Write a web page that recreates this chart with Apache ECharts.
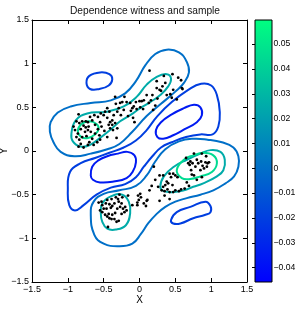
<!DOCTYPE html>
<html>
<head>
<meta charset="utf-8">
<script src="https://cdn.jsdelivr.net/npm/echarts@6/dist/echarts.min.js"></script>
<style>
  html, body { margin: 0; padding: 0; background: #fff; }
  #main { width: 296px; height: 310px; }
</style>
</head>
<body>
<div id="main"></div>
<script>
// axis ticks
var xTicks = [-1.5, -1, -0.5, 0, 0.5, 1, 1.5];
var yTicks = [-1.5, -1, -0.5, 0, 0.5, 1, 1.5];
// colour bar range and ticks
var cbRange = [-0.0458, 0.0597];
var cbTicks = [-0.04, -0.03, -0.02, -0.01, 0, 0.01, 0.02, 0.03, 0.04, 0.05];

// contour lines (x, y)
var darkUpper = [[0.23,0.24],[0.30,0.33],[0.45,0.42],[0.62,0.49],[0.76,0.53],[0.85,0.50],[0.87,0.41],[0.80,0.33],[0.63,0.25],[0.47,0.18],[0.33,0.14],[0.25,0.16]];
var darkLower = [[-0.68,-0.28],[-0.66,-0.18],[-0.58,-0.11],[-0.45,-0.06],[-0.30,-0.03],[-0.17,-0.01],[-0.07,-0.05],[-0.05,-0.13],[-0.09,-0.23],[-0.18,-0.31],[-0.36,-0.35],[-0.55,-0.36],[-0.65,-0.33]];
var blueBand = [[-1.00,-0.45],[-0.97,-0.24],[-0.82,-0.14],[-0.62,-0.08],[-0.42,-0.02],[-0.22,0.04],[-0.05,0.12],[0.10,0.24],[0.25,0.40],[0.45,0.56],[0.68,0.70],[0.86,0.77],[1.00,0.75],[1.08,0.64],[1.12,0.45],[1.10,0.28],[1.02,0.19],[0.85,0.19],[0.65,0.16],[0.45,0.10],[0.30,0.04],[0.18,-0.06],[0.06,-0.18],[-0.05,-0.30],[-0.20,-0.38],[-0.40,-0.42],[-0.60,-0.50],[-0.78,-0.62],[-0.90,-0.68],[-0.98,-0.62]];
var blueTopLeft = [[-0.74,0.78],[-0.70,0.86],[-0.55,0.90],[-0.42,0.88],[-0.38,0.82],[-0.43,0.75],[-0.56,0.71],[-0.69,0.71]];
var blueBottomRight = [[0.44,-0.79],[0.52,-0.70],[0.71,-0.64],[0.92,-0.58],[0.99,-0.63],[0.99,-0.70],[0.92,-0.73],[0.75,-0.77],[0.57,-0.83],[0.47,-0.83]];
var zeroUpper = [[-1.25,0.22],[-1.24,0.33],[-1.14,0.44],[-0.96,0.51],[-0.68,0.55],[-0.40,0.58],[-0.20,0.66],[-0.05,0.80],[0.08,0.98],[0.22,1.11],[0.38,1.16],[0.55,1.13],[0.66,1.02],[0.69,0.90],[0.62,0.78],[0.50,0.68],[0.30,0.54],[0.10,0.40],[-0.10,0.22],[-0.28,0.08],[-0.45,0.02],[-0.68,-0.03],[-0.91,-0.06],[-1.10,-0.01],[-1.20,0.10]];
var zeroLower = [[-0.68,-0.72],[-0.64,-0.58],[-0.50,-0.49],[-0.28,-0.45],[-0.05,-0.40],[0.10,-0.28],[0.22,-0.12],[0.36,0.02],[0.55,0.11],[0.75,0.14],[0.95,0.13],[1.15,0.10],[1.31,0.04],[1.38,-0.06],[1.38,-0.18],[1.32,-0.29],[1.20,-0.37],[1.03,-0.45],[0.85,-0.50],[0.66,-0.54],[0.50,-0.58],[0.36,-0.64],[0.24,-0.72],[0.12,-0.83],[0.02,-0.95],[-0.10,-1.06],[-0.30,-1.09],[-0.50,-1.06],[-0.63,-0.96]];
var tealUpper = [[-0.95,0.20],[-0.89,0.35],[-0.73,0.43],[-0.45,0.45],[-0.22,0.51],[-0.04,0.62],[0.10,0.76],[0.24,0.85],[0.38,0.88],[0.44,0.83],[0.40,0.74],[0.29,0.64],[0.15,0.56],[0.01,0.49],[-0.13,0.41],[-0.27,0.34],[-0.41,0.24],[-0.55,0.15],[-0.69,0.07],[-0.82,0.05],[-0.93,0.11]];
var tealLower = [[0.29,-0.41],[0.34,-0.29],[0.48,-0.18],[0.66,-0.10],[0.85,-0.03],[0.99,0.01],[1.13,-0.01],[1.19,-0.10],[1.17,-0.22],[1.08,-0.29],[0.89,-0.37],[0.75,-0.41],[0.62,-0.45],[0.48,-0.47],[0.34,-0.46]];
var tealLeft = [[-0.54,-0.71],[-0.52,-0.60],[-0.40,-0.52],[-0.24,-0.50],[-0.15,-0.58],[-0.13,-0.71],[-0.19,-0.85],[-0.33,-0.90],[-0.45,-0.89],[-0.52,-0.81]];
var greenUpper = [[-0.86,0.22],[-0.82,0.30],[-0.71,0.34],[-0.60,0.31],[-0.57,0.25],[-0.62,0.19],[-0.72,0.15],[-0.81,0.16]];
var greenLower = [[0.52,-0.22],[0.62,-0.10],[0.75,-0.05],[0.89,-0.02],[1.03,-0.05],[1.08,-0.14],[1.01,-0.24],[0.85,-0.29],[0.71,-0.32],[0.59,-0.31]];

// contour level of each line
var contourLines = [
  [-0.035, darkUpper], [-0.035, darkLower],
  [-0.02, blueBand], [-0.02, blueTopLeft], [-0.02, blueBottomRight],
  [0, zeroUpper], [0, zeroLower],
  [0.025, tealUpper], [0.025, tealLower], [0.025, tealLeft],
  [0.045, greenUpper], [0.045, greenLower]
];

// sample points
var sampleUpper = [[0.14,0.92],[0.24,0.80],[0.34,0.86],[0.46,0.88],[0.54,0.84],[0.58,0.81],[0.59,0.72],[0.60,0.71],[0.47,0.70],[0.43,0.65],[0.45,0.61],[0.52,0.59],[0.32,0.74],[0.28,0.70],[0.24,0.72],[0.30,0.69],[0.18,0.64],[0.16,0.58],[0.10,0.64],[0.06,0.58],[0.03,0.57],[0.0,0.57],[-0.05,0.56],[-0.08,0.51],[-0.10,0.49],[-0.04,0.48],[0.01,0.50],[0.05,0.48],[0.19,0.47],[0.13,0.55],[0.36,0.78],[0.38,0.64],[0.25,0.60],[0.22,0.52],
  [-0.21,0.62],[-0.24,0.56],[-0.18,0.56],[-0.13,0.55],[-0.27,0.55],[-0.34,0.62],[-0.29,0.49],[-0.31,0.45],[-0.22,0.47],[-0.26,0.41],[-0.36,0.41],[-0.38,0.35],[-0.34,0.32],[-0.31,0.26],[-0.38,0.30],[-0.41,0.33],[-0.43,0.30],[-0.41,0.26],[-0.37,0.24],[-0.50,0.41],[-0.54,0.43],[-0.58,0.39],[-0.63,0.41],[-0.66,0.35],[-0.69,0.39],[-0.72,0.33],[-0.75,0.34],[-0.71,0.28],[-0.80,0.34],[-0.84,0.32],[-0.78,0.29],[-0.75,0.27],[-0.72,0.24],[-0.76,0.22],[-0.82,0.25],[-0.86,0.20],[-0.88,0.16],[-0.84,0.13],[-0.80,0.16],[-0.74,0.17],[-0.70,0.10],[-0.82,0.08],[-0.85,0.05],[-0.78,0.04],[-0.72,0.07],[-0.64,0.07],[-0.59,0.10],[-0.55,0.13],[-0.62,0.20],[-0.58,0.25],[-0.53,0.28],[-0.49,0.23],[-0.56,0.18],[-0.45,0.16],[-0.48,0.45],[-0.45,0.38],[-0.42,0.45],[-0.55,0.33],[-0.62,0.30],[-0.68,0.22],[-0.66,0.14],[-0.85,0.42],[-0.88,0.34],[-0.90,0.24],[-0.92,0.28],[-0.16,0.40],[-0.12,0.46],[-0.07,0.33],[-0.09,0.38],[-0.32,0.15],[-0.33,0.54],[-0.45,0.49]];
var sampleLower = [[0.65,-0.08],[0.76,-0.03],[0.87,-0.03],[0.93,-0.06],[0.80,-0.10],[0.82,-0.14],[0.86,-0.12],[0.88,-0.17],[0.92,-0.13],[0.95,-0.14],[0.97,-0.13],[0.94,-0.18],[0.90,-0.20],[0.85,-0.22],[0.78,-0.18],[0.74,-0.14],[0.71,-0.12],[0.68,-0.14],[0.72,-0.22],[0.73,-0.27],[0.76,-0.28],[0.80,-0.33],[0.87,-0.30],[0.66,-0.36],[0.69,-0.40],[0.63,-0.43],[0.58,-0.44],[0.55,-0.46],[0.70,-0.16],
  [0.20,-0.18],[0.28,-0.28],[0.33,-0.28],[0.42,-0.26],[0.47,-0.26],[0.44,-0.30],[0.50,-0.28],[0.53,-0.30],[0.38,-0.35],[0.40,-0.37],[0.36,-0.39],[0.33,-0.41],[0.31,-0.45],[0.35,-0.46],[0.39,-0.44],[0.42,-0.47],[0.47,-0.47],[0.50,-0.45],[0.35,-0.51],[0.42,-0.55],[0.28,-0.57],[0.14,-0.45],[0.11,-0.56],[0.10,-0.57],[0.01,-0.49],[0.02,-0.53],[-0.02,-0.51],[-0.01,-0.56],[-0.03,-0.62],[0.06,-0.60],[0.09,-0.63],[-0.03,-0.59],[-0.10,-0.62],[0.22,-0.33],[0.26,-0.41],[0.17,-0.40],[0.46,-0.39],
  [-0.16,-0.51],[-0.24,-0.53],[-0.28,-0.50],[-0.33,-0.53],[-0.39,-0.55],[-0.45,-0.56],[-0.53,-0.58],[-0.57,-0.59],[-0.52,-0.62],[-0.47,-0.60],[-0.42,-0.61],[-0.38,-0.63],[-0.35,-0.60],[-0.29,-0.58],[-0.25,-0.60],[-0.20,-0.64],[-0.18,-0.68],[-0.23,-0.66],[-0.27,-0.64],[-0.31,-0.66],[-0.34,-0.71],[-0.40,-0.65],[-0.46,-0.66],[-0.50,-0.66],[-0.55,-0.68],[-0.52,-0.70],[-0.48,-0.73],[-0.45,-0.75],[-0.42,-0.77],[-0.39,-0.78],[-0.35,-0.78],[-0.32,-0.81],[-0.29,-0.80],[-0.38,-0.73],[-0.43,-0.72],[-0.44,-0.87],[-0.21,-0.70],[-0.25,-0.72],[-0.30,-0.55]];

var chart = echarts.init(document.getElementById('main'), null, { renderer: 'canvas' });
var FONT = 'Liberation Sans';

// 'winter' colour map: blue -> spring green
function winter(v) {
  var t = (v - cbRange[0]) / (cbRange[1] - cbRange[0]);
  t = Math.max(0, Math.min(1, t));
  return 'rgb(0,' + Math.round(255 * t) + ',' + Math.round(255 * (1 - t / 2)) + ')';
}
function minus(s) { return String(s).replace('-', '\u2212'); }

var series = [];
contourLines.forEach(function (c) {
  var pts = c[1];
  series.push({
    type: 'custom',
    xAxisIndex: 0,
    yAxisIndex: 0,
    clip: true,
    silent: true,
    data: pts,
    renderItem: function (params, api) {
      if (params.dataIndex !== 0) return;
      var path = pts.map(function (p) { return api.coord(p); });
      return {
        type: 'polygon',
        shape: { points: path, smooth: 0.45 },
        style: { fill: 'none', stroke: winter(c[0]), lineWidth: 2 }
      };
    }
  });
});
series.push({
  type: 'scatter',
  xAxisIndex: 0,
  yAxisIndex: 0,
  symbol: 'circle',
  symbolSize: 2.8,
  itemStyle: { color: '#000', opacity: 1 },
  silent: true,
  data: sampleUpper.concat(sampleLower)
});
// colour bar
series.push({
  type: 'custom',
  xAxisIndex: 2,
  yAxisIndex: 2,
  silent: true,
  data: [[0, cbRange[0], cbRange[1]]],
  renderItem: function (params, api) {
    var a = api.coord([0, api.value(2)]);
    var b = api.coord([1, api.value(1)]);
    return {
      type: 'rect',
      shape: { x: a[0], y: a[1], width: b[0] - a[0], height: b[1] - a[1] },
      style: {
        fill: new echarts.graphic.LinearGradient(0, 0, 0, 1, [
          { offset: 0, color: winter(cbRange[1]) },
          { offset: 1, color: winter(cbRange[0]) }
        ]),
        stroke: '#000',
        lineWidth: 1
      }
    };
  }
});

var boxAxis = {
  axisLine: { show: true, onZero: false, lineStyle: { color: '#000', width: 1 } },
  axisTick: { show: true, inside: true, length: 4, lineStyle: { color: '#000' } },
  splitLine: { show: false }
};

chart.setOption({
  animation: false,
  backgroundColor: '#fff',
  title: {
    text: 'Dependence witness and sample',
    left: 140,
    top: 1,
    textAlign: 'center',
    textStyle: { fontFamily: FONT, fontSize: 10.2, fontWeight: 'normal', color: '#111' }
  },
  grid: [
    { left: 32, top: 20, width: 215, height: 262, outerBoundsMode: 'none', containLabel: false },
    { left: 255, top: 20, width: 17, height: 262, outerBoundsMode: 'none', containLabel: false }
  ],
  xAxis: [
    Object.assign({
      gridIndex: 0, type: 'value', min: -1.5, max: 1.5, interval: 0.5,
      name: 'X', nameLocation: 'middle', nameGap: 13, nameMoveOverlap: false,
      nameTextStyle: { fontFamily: FONT, fontSize: 10, color: '#000' },
      axisLabel: { fontFamily: FONT, fontSize: 9, color: '#000', margin: 3,
        customValues: xTicks, formatter: minus }
    }, boxAxis),
    Object.assign({
      gridIndex: 0, type: 'value', min: -1.5, max: 1.5, interval: 0.5, position: 'top',
      axisLabel: { show: false }
    }, boxAxis),
    { gridIndex: 1, type: 'value', min: 0, max: 1, show: false }
  ],
  yAxis: [
    Object.assign({
      gridIndex: 0, type: 'value', min: -1.5, max: 1.5, interval: 0.5,
      name: 'Y', nameLocation: 'middle', nameGap: 23, nameRotate: 90, nameMoveOverlap: false,
      nameTextStyle: { fontFamily: FONT, fontSize: 10, color: '#000' },
      axisLabel: { fontFamily: FONT, fontSize: 9, color: '#000', margin: 3,
        customValues: yTicks, formatter: minus }
    }, boxAxis),
    Object.assign({
      gridIndex: 0, type: 'value', min: -1.5, max: 1.5, interval: 0.5, position: 'right',
      axisLabel: { show: false }
    }, boxAxis),
    {
      gridIndex: 1, type: 'value', min: cbRange[0], max: cbRange[1], position: 'right',
      axisLine: { show: false },
      axisTick: { show: true, inside: true, length: 3, customValues: cbTicks, lineStyle: { color: '#000' } },
      axisLabel: { fontFamily: FONT, fontSize: 8.6, color: '#000', margin: 1.5, customValues: cbTicks,
        formatter: function (v) { return v === 0 ? '0' : minus(v.toFixed(2)); } },
      splitLine: { show: false }
    }
  ],
  series: series
});
</script>
</body>
</html>
